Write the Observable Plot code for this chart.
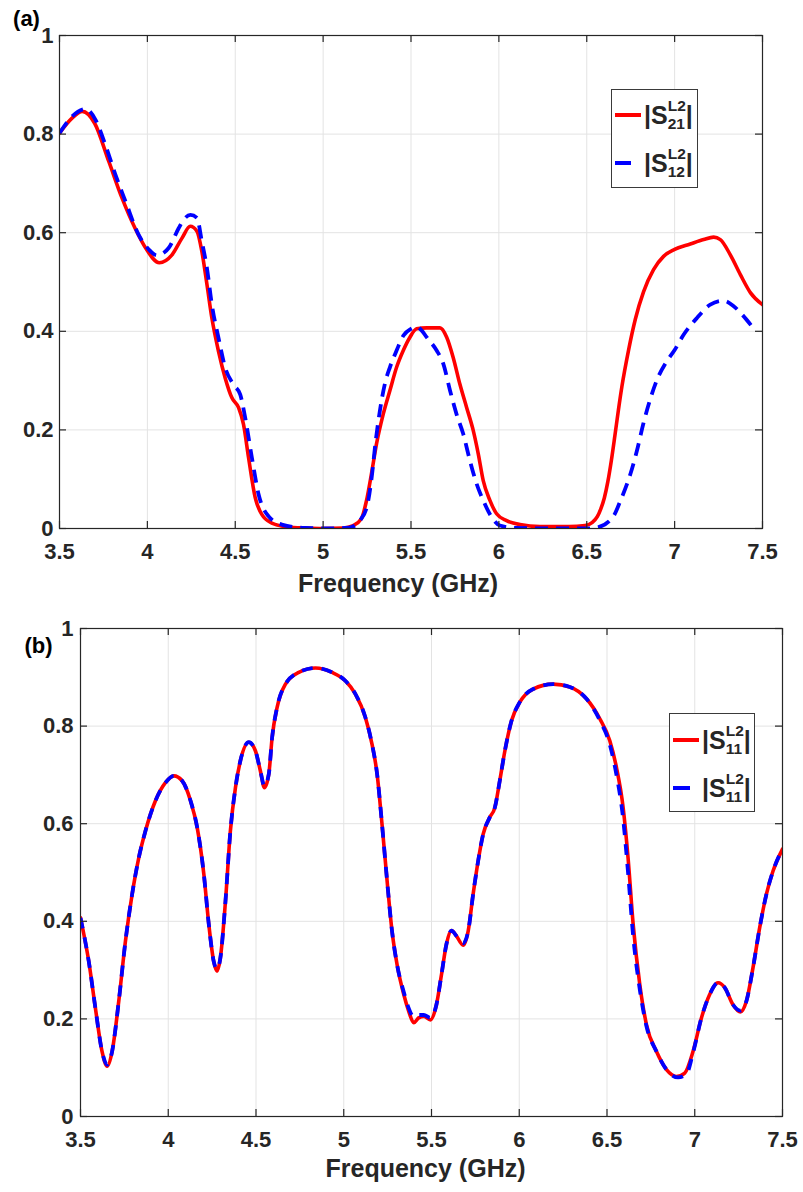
<!DOCTYPE html>
<html>
<head>
<meta charset="utf-8">
<script src="https://cdn.jsdelivr.net/npm/d3@7"></script>
<script src="https://cdn.jsdelivr.net/npm/@observablehq/plot@0.6"></script>
<style>
  html, body { margin: 0; padding: 0; background: #fff; }
  body { font-family: "Liberation Sans", Arial, sans-serif; color: #262626; }
  #chart { position: relative; width: 803px; }
  .panel { position: relative; width: 803px; }
  .panel svg { display: block; }
  .leg { position: absolute; box-sizing: border-box; background: #fff; border: 1px solid #3a3a3a; }
  .sw { position: absolute; height: 4px; margin-top: -2px; }
  .lab { position: absolute; display: flex; align-items: center; font-weight: bold; color: #262626; white-space: nowrap; }
  .big { font-size: 25px; line-height: 29px; display: block; }
  .stk { display: flex; flex-direction: column; }
  .stk span { display: block; font-size: 15.5px; line-height: 18px; height: 18px; }
</style>
</head>
<body>
<div id="chart"></div>
<script>
// ---------- data ----------
const xTicks = [3.5, 4, 4.5, 5, 5.5, 6, 6.5, 7, 7.5];
const yTicks = [0, 0.2, 0.4, 0.6, 0.8, 1];

// (a) |S21^L2| (red, solid)
const aS21Freq = [3.50,3.57,3.63,3.70,3.78,3.856,3.93,3.99,4.068,4.14,4.197,4.244,4.282,4.31,4.339,4.367,4.405,4.443,4.481,4.519,4.547,4.576,4.614,4.652,4.708,4.80,4.90,5.00,5.114,5.171,5.218,5.247,5.275,5.304,5.342,5.38,5.418,5.456,5.494,5.532,5.589,5.665,5.703,5.74,5.778,5.816,5.854,5.883,5.911,5.949,5.987,6.044,6.12,6.234,6.40,6.49,6.53,6.56,6.58,6.60,6.62,6.64,6.66,6.68,6.70,6.738,6.776,6.823,6.88,6.937,7.00,7.089,7.165,7.222,7.26,7.317,7.374,7.432,7.50];
const aS21Val  = [0.802,0.832,0.846,0.822,0.745,0.670,0.609,0.569,0.539,0.555,0.589,0.613,0.603,0.562,0.495,0.427,0.359,0.305,0.265,0.245,0.211,0.143,0.062,0.028,0.011,0.003,0.001,0.000,0.001,0.006,0.020,0.057,0.111,0.172,0.232,0.280,0.327,0.361,0.388,0.405,0.407,0.407,0.388,0.347,0.293,0.246,0.199,0.151,0.097,0.057,0.030,0.016,0.008,0.004,0.004,0.006,0.012,0.024,0.040,0.062,0.095,0.138,0.188,0.240,0.288,0.362,0.424,0.480,0.525,0.552,0.566,0.577,0.586,0.591,0.586,0.555,0.515,0.478,0.454];

// (a) |S12^L2| (blue, dashed)
const aS12Freq = [3.50,3.572,3.648,3.705,3.761,3.818,3.875,3.95,4.008,4.055,4.121,4.178,4.206,4.245,4.282,4.31,4.339,4.367,4.405,4.443,4.49,4.528,4.557,4.595,4.633,4.689,4.765,4.898,5.05,5.15,5.209,5.25,5.275,5.30,5.323,5.351,5.38,5.418,5.456,5.50,5.532,5.56,5.589,5.646,5.684,5.722,5.759,5.797,5.835,5.873,5.911,5.959,6.006,6.10,6.30,6.50,6.557,6.652,6.69,6.747,6.785,6.823,6.861,6.90,6.95,7.00,7.051,7.127,7.203,7.279,7.336,7.384,7.44];
const aS12Val  = [0.802,0.836,0.851,0.829,0.778,0.718,0.664,0.596,0.566,0.554,0.569,0.609,0.626,0.636,0.630,0.582,0.528,0.454,0.386,0.326,0.292,0.272,0.224,0.143,0.069,0.025,0.008,0.001,0.000,0.002,0.016,0.045,0.100,0.180,0.239,0.293,0.327,0.361,0.391,0.405,0.409,0.402,0.388,0.361,0.334,0.280,0.232,0.192,0.138,0.091,0.057,0.023,0.006,0.001,0.000,0.000,0.002,0.025,0.055,0.109,0.157,0.214,0.262,0.302,0.336,0.362,0.393,0.427,0.454,0.462,0.451,0.434,0.410];

// (b) |S11^L2| (red, solid)
const bRedFreq = [3.50,3.547,3.585,3.623,3.652,3.68,3.718,3.756,3.794,3.832,3.87,3.927,3.984,4.032,4.079,4.127,4.165,4.203,4.231,4.259,4.278,4.297,4.326,4.354,4.383,4.411,4.459,4.497,4.525,4.548,4.573,4.592,4.62,4.668,4.744,4.839,4.934,5.009,5.066,5.123,5.161,5.19,5.218,5.247,5.275,5.304,5.342,5.37,5.399,5.427,5.456,5.494,5.528,5.557,5.585,5.614,5.642,5.68,5.709,5.737,5.766,5.794,5.832,5.861,5.889,5.918,5.956,6.003,6.079,6.193,6.288,6.383,6.459,6.516,6.554,6.592,6.62,6.649,6.687,6.725,6.782,6.839,6.895,6.943,6.99,7.038,7.085,7.133,7.171,7.218,7.26,7.294,7.332,7.37,7.408,7.446,7.50];
const bRedVal  = [0.407,0.318,0.222,0.133,0.103,0.133,0.236,0.359,0.455,0.530,0.585,0.647,0.684,0.698,0.688,0.647,0.592,0.496,0.394,0.318,0.298,0.325,0.441,0.585,0.674,0.729,0.767,0.749,0.708,0.674,0.702,0.777,0.838,0.886,0.910,0.919,0.910,0.893,0.866,0.818,0.763,0.702,0.599,0.483,0.380,0.311,0.250,0.216,0.192,0.202,0.205,0.198,0.229,0.291,0.353,0.381,0.370,0.351,0.380,0.455,0.524,0.578,0.613,0.633,0.688,0.749,0.811,0.849,0.876,0.886,0.880,0.856,0.815,0.770,0.715,0.633,0.530,0.394,0.270,0.188,0.133,0.096,0.082,0.089,0.133,0.202,0.250,0.274,0.264,0.229,0.214,0.236,0.305,0.387,0.455,0.503,0.548];

// (b) |S11^L2| (blue, dashed)
const bBlueFreq = [3.50,3.547,3.585,3.623,3.652,3.68,3.718,3.756,3.794,3.832,3.87,3.927,3.984,4.032,4.079,4.127,4.165,4.203,4.231,4.259,4.278,4.297,4.326,4.354,4.383,4.411,4.459,4.497,4.525,4.548,4.573,4.592,4.62,4.668,4.744,4.839,4.934,5.009,5.066,5.123,5.161,5.19,5.218,5.247,5.275,5.304,5.342,5.37,5.399,5.427,5.456,5.494,5.528,5.557,5.585,5.614,5.642,5.68,5.709,5.737,5.766,5.794,5.832,5.861,5.889,5.918,5.956,6.003,6.079,6.193,6.288,6.383,6.459,6.516,6.554,6.592,6.62,6.649,6.687,6.725,6.782,6.839,6.905,6.953,6.99,7.038,7.085,7.133,7.171,7.218,7.26,7.294,7.332,7.37,7.408,7.446,7.50];
const bBlueVal  = [0.407,0.318,0.222,0.133,0.106,0.133,0.236,0.359,0.455,0.530,0.585,0.647,0.684,0.698,0.688,0.647,0.592,0.496,0.394,0.318,0.302,0.325,0.441,0.585,0.674,0.729,0.767,0.749,0.708,0.677,0.702,0.777,0.838,0.886,0.910,0.919,0.910,0.893,0.866,0.818,0.763,0.702,0.599,0.483,0.380,0.311,0.255,0.222,0.204,0.208,0.208,0.202,0.229,0.291,0.353,0.381,0.370,0.355,0.380,0.455,0.524,0.578,0.613,0.633,0.688,0.749,0.811,0.849,0.876,0.886,0.880,0.856,0.812,0.762,0.700,0.610,0.500,0.370,0.260,0.185,0.133,0.096,0.080,0.087,0.130,0.202,0.250,0.274,0.264,0.229,0.217,0.236,0.305,0.387,0.455,0.503,0.548];

// legend labels
const legendA = [
  {sub: "21", sup: "L2", color: "red", dashed: false},
  {sub: "12", sup: "L2", color: "blue", dashed: true}
];
const legendB = [
  {sub: "11", sup: "L2", color: "red", dashed: false},
  {sub: "11", sup: "L2", color: "blue", dashed: true}
];

// ---------- helpers ----------
const zip = (fs, vs) => fs.map((f, i) => ({f, v: vs[i]}));
const AXIS = "#262626";
const GRID = "#e3e3e3";
const FONT = "Liberation Sans, Arial, sans-serif";

function panel({height, mt, mb, ml, mr, red, blue, tag, tagDx, tagDy, dash, tickFs, labelFs, labelDx, labelDy, tickPadX, tickPadY}) {
  const plotH = height - mt - mb;
  const plotW = 803 - ml - mr;
  const tickLen = 7;
  const ty = tickLen / plotH;          // tick length in y data units
  const tx = tickLen / plotW * 4;      // tick length in x data units
  return Plot.plot({
    width: 803, height,
    marginTop: mt, marginBottom: mb, marginLeft: ml, marginRight: mr,
    style: {fontFamily: FONT, color: AXIS, background: "#fff", overflow: "visible"},
    x: {domain: [3.5, 7.5]},
    y: {domain: [0, 1]},
    marks: [
      Plot.ruleX(xTicks, {x: d => d, stroke: GRID, strokeWidth: 1}),
      Plot.ruleY(yTicks, {y: d => d, stroke: GRID, strokeWidth: 1}),
      Plot.line(zip(red.f, red.v), {x: "f", y: "v", stroke: "#ff0000", strokeWidth: 3.6, curve: "monotone-x", clip: true}),
      Plot.line(zip(blue.f, blue.v), {x: "f", y: "v", stroke: "#0000ff", strokeWidth: 3.8, strokeDasharray: dash, strokeLinecap: "butt", curve: "monotone-x", clip: true}),
      Plot.frame({stroke: AXIS, strokeWidth: 1.2}),
      // inward ticks on all four sides
      Plot.ruleX(xTicks, {x: d => d, y1: 0, y2: ty, stroke: AXIS, strokeWidth: 1.2}),
      Plot.ruleX(xTicks, {x: d => d, y1: 1 - ty, y2: 1, stroke: AXIS, strokeWidth: 1.2}),
      Plot.ruleY(yTicks, {y: d => d, x1: 3.5, x2: 3.5 + tx, stroke: AXIS, strokeWidth: 1.2}),
      Plot.ruleY(yTicks, {y: d => d, x1: 7.5 - tx, x2: 7.5, stroke: AXIS, strokeWidth: 1.2}),
      Plot.axisX({ticks: xTicks, tickSize: 0, tickPadding: tickPadX, tickFormat: d => String(d), fontSize: tickFs, fontWeight: "bold", label: null}),
      Plot.axisY({ticks: yTicks, tickSize: 0, tickPadding: tickPadY, tickFormat: d => String(d), fontSize: tickFs, fontWeight: "bold", label: null}),
      Plot.text(["Frequency (GHz)"], {frameAnchor: "bottom", lineAnchor: "middle", dx: labelDx, dy: labelDy, fontSize: labelFs, fontWeight: "bold", fill: AXIS}),
      Plot.text([tag], {frameAnchor: "top-left", lineAnchor: "middle", dx: tagDx, dy: tagDy, fontSize: 22, fontWeight: "bold", fill: "#000", textAnchor: "middle"})
    ]
  });
}

function legend(parent, items, box) {
  const d = document.createElement("div");
  d.className = "leg";
  Object.assign(d.style, {left: box.left + "px", top: box.top + "px", width: box.w + "px", height: box.h + "px"});
  items.forEach((it, i) => {
    const cy = box.rows[i];
    const sw = document.createElement("div");
    sw.className = "sw";
    Object.assign(sw.style, {left: box.swLeft + "px", top: cy + "px", width: (it.dashed ? box.dashW : box.lineW) + "px", background: it.color});
    d.appendChild(sw);
    const lab = document.createElement("div");
    lab.className = "lab";
    lab.style.left = box.textLeft + "px";
    lab.style.top = (cy - 18) + "px";
    lab.style.height = "36px";
    lab.innerHTML = `<span class="big">|S</span><span class="stk"><span>${it.sup}</span><span>${it.sub}</span></span><span class="big">|</span>`;
    d.appendChild(lab);
  });
  parent.appendChild(d);
}

const root = document.getElementById("chart");

const pa = document.createElement("div");
pa.className = "panel";
pa.appendChild(panel({
  height: 600, mt: 35, mb: 72, ml: 59, mr: 41,
  red: {f: aS21Freq, v: aS21Val}, blue: {f: aS12Freq, v: aS12Val},
  tag: "(a)", tagDx: -33, tagDy: -17, dash: "13,8",
  tickFs: 22, labelFs: 25, labelDx: -13, labelDy: 55, tickPadX: 15, tickPadY: 6
}));
root.appendChild(pa);
legend(pa, legendA, {left: 611, top: 89, w: 87, h: 99, rows: [25, 73], swLeft: 3, lineW: 26, dashW: 16, textLeft: 32});

const pb = document.createElement("div");
pb.className = "panel";
pb.appendChild(panel({
  height: 592, mt: 28, mb: 76, ml: 80, mr: 21,
  red: {f: bRedFreq, v: bRedVal}, blue: {f: bBlueFreq, v: bBlueVal},
  tag: "(b)", tagDx: -42, tagDy: 17, dash: "11,9",
  tickFs: 22, labelFs: 25, labelDx: -6, labelDy: 52, tickPadX: 15, tickPadY: 7
}));
root.appendChild(pb);
legend(pb, legendB, {left: 669, top: 113, w: 86, h: 99, rows: [26, 74], swLeft: 3, lineW: 26, dashW: 17, textLeft: 32});
</script>
</body>
</html>
